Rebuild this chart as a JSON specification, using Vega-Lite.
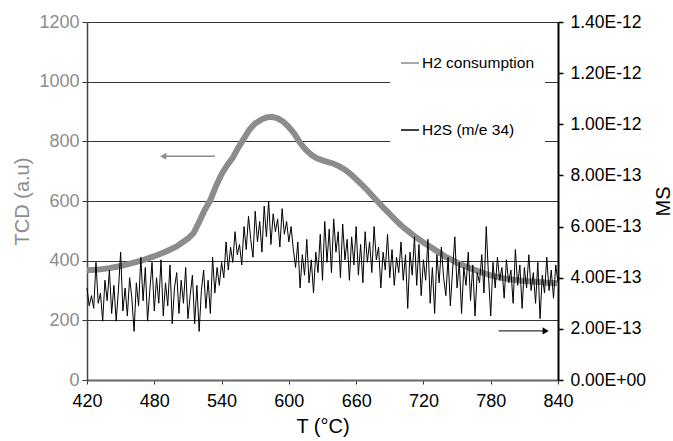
{
  "$schema": "https://vega.github.io/schema/vega-lite/v6.json",
  "width": 471,
  "height": 358,
  "autosize": "none",
  "padding": {"left": 87, "top": 22, "right": 115, "bottom": 61},
  "config": {"font": "Liberation Sans", "view": {"stroke": null}},
  "datasets": {
    "h2": [
      {"T":420,"v":368},{"T":430,"v":370},{"T":440,"v":375},{"T":450,"v":382},{"T":460,"v":392},{"T":470,"v":402},{"T":480,"v":415},{"T":490,"v":430},{"T":500,"v":448},{"T":510,"v":474},{"T":515,"v":492},{"T":520,"v":530},{"T":525,"v":570},{"T":530,"v":603},{"T":535,"v":650},{"T":540,"v":690},{"T":545,"v":720},{"T":550,"v":745},{"T":555,"v":780},{"T":560,"v":810},{"T":565,"v":840},{"T":570,"v":860},{"T":575,"v":872},{"T":580,"v":880},{"T":585,"v":882},{"T":590,"v":877},{"T":595,"v":866},{"T":600,"v":848},{"T":605,"v":825},{"T":610,"v":795},{"T":615,"v":772},{"T":620,"v":755},{"T":625,"v":743},{"T":630,"v":736},{"T":635,"v":730},{"T":640,"v":725},{"T":645,"v":716},{"T":650,"v":705},{"T":655,"v":690},{"T":660,"v":673},{"T":665,"v":655},{"T":670,"v":636},{"T":675,"v":615},{"T":680,"v":595},{"T":685,"v":575},{"T":690,"v":556},{"T":695,"v":537},{"T":700,"v":519},{"T":705,"v":503},{"T":710,"v":488},{"T":715,"v":474},{"T":720,"v":461},{"T":725,"v":449},{"T":730,"v":437},{"T":735,"v":425},{"T":740,"v":413},{"T":745,"v":403},{"T":750,"v":393},{"T":755,"v":385},{"T":760,"v":377},{"T":765,"v":370},{"T":770,"v":363},{"T":775,"v":357},{"T":780,"v":351},{"T":785,"v":346},{"T":790,"v":342},{"T":795,"v":339},{"T":800,"v":336},{"T":810,"v":332},{"T":820,"v":329},{"T":830,"v":326},{"T":840,"v":324}
    ],
    "h2s": [
      {"T":420,"ms":3.6e-13},{"T":422,"ms":2.9e-13},{"T":424,"ms":3.3e-13},{"T":426,"ms":2.8e-13},{"T":428,"ms":4.6e-13},{"T":430,"ms":3.0e-13},{"T":432,"ms":3.4e-13},{"T":434,"ms":2.3e-13},{"T":436,"ms":3.9e-13},{"T":438,"ms":3.1e-13},
      {"T":440,"ms":4.3e-13},{"T":442,"ms":2.6e-13},{"T":444,"ms":3.7e-13},{"T":446,"ms":2.3e-13},{"T":448,"ms":3.5e-13},{"T":450,"ms":5.0e-13},{"T":452,"ms":2.7e-13},{"T":454,"ms":3.6e-13},{"T":456,"ms":2.5e-13},{"T":458,"ms":4.0e-13},
      {"T":460,"ms":3.2e-13},{"T":462,"ms":1.9e-13},{"T":464,"ms":3.8e-13},{"T":466,"ms":2.9e-13},{"T":468,"ms":4.8e-13},{"T":470,"ms":3.1e-13},{"T":472,"ms":4.4e-13},{"T":474,"ms":2.3e-13},{"T":476,"ms":3.5e-13},{"T":478,"ms":4.6e-13},
      {"T":480,"ms":2.7e-13},{"T":482,"ms":4.0e-13},{"T":484,"ms":3.0e-13},{"T":486,"ms":4.7e-13},{"T":488,"ms":2.5e-13},{"T":490,"ms":3.8e-13},{"T":492,"ms":2.9e-13},{"T":494,"ms":4.5e-13},{"T":496,"ms":2.2e-13},{"T":498,"ms":3.6e-13},
      {"T":500,"ms":4.2e-13},{"T":502,"ms":2.6e-13},{"T":504,"ms":3.9e-13},{"T":506,"ms":3.0e-13},{"T":508,"ms":4.4e-13},{"T":510,"ms":2.4e-13},{"T":512,"ms":3.3e-13},{"T":514,"ms":4.1e-13},{"T":516,"ms":2.2e-13},{"T":518,"ms":3.7e-13},
      {"T":520,"ms":1.9e-13},{"T":522,"ms":3.5e-13},{"T":524,"ms":4.3e-13},{"T":526,"ms":2.8e-13},{"T":528,"ms":3.9e-13},{"T":530,"ms":2.6e-13},{"T":532,"ms":4.8e-13},{"T":534,"ms":3.4e-13},{"T":536,"ms":4.4e-13},{"T":538,"ms":3.7e-13},
      {"T":540,"ms":4.6e-13},{"T":542,"ms":4.0e-13},{"T":544,"ms":5.4e-13},{"T":546,"ms":4.3e-13},{"T":548,"ms":5.2e-13},{"T":550,"ms":4.6e-13},{"T":552,"ms":5.8e-13},{"T":554,"ms":4.9e-13},{"T":556,"ms":5.3e-13},{"T":558,"ms":4.5e-13},
      {"T":560,"ms":6.0e-13},{"T":562,"ms":5.1e-13},{"T":564,"ms":6.4e-13},{"T":566,"ms":5.5e-13},{"T":568,"ms":4.8e-13},{"T":570,"ms":6.6e-13},{"T":572,"ms":5.4e-13},{"T":574,"ms":6.2e-13},{"T":576,"ms":5.0e-13},{"T":578,"ms":6.8e-13},
      {"T":580,"ms":5.6e-13},{"T":582,"ms":7.0e-13},{"T":584,"ms":5.3e-13},{"T":586,"ms":6.5e-13},{"T":588,"ms":5.8e-13},{"T":590,"ms":6.3e-13},{"T":592,"ms":5.2e-13},{"T":594,"ms":6.7e-13},{"T":596,"ms":5.7e-13},{"T":598,"ms":6.2e-13},
      {"T":600,"ms":5.4e-13},{"T":602,"ms":6.0e-13},{"T":604,"ms":5.1e-13},{"T":606,"ms":4.4e-13},{"T":608,"ms":5.4e-13},{"T":610,"ms":3.6e-13},{"T":612,"ms":4.9e-13},{"T":614,"ms":4.1e-13},{"T":616,"ms":5.5e-13},{"T":618,"ms":3.8e-13},
      {"T":620,"ms":4.7e-13},{"T":622,"ms":3.4e-13},{"T":624,"ms":5.0e-13},{"T":626,"ms":4.2e-13},{"T":628,"ms":5.7e-13},{"T":630,"ms":3.9e-13},{"T":632,"ms":6.2e-13},{"T":634,"ms":4.6e-13},{"T":636,"ms":5.9e-13},{"T":638,"ms":4.2e-13},
      {"T":640,"ms":6.3e-13},{"T":642,"ms":5.0e-13},{"T":644,"ms":5.8e-13},{"T":646,"ms":4.0e-13},{"T":648,"ms":6.1e-13},{"T":650,"ms":4.7e-13},{"T":652,"ms":5.5e-13},{"T":654,"ms":3.9e-13},{"T":656,"ms":5.6e-13},{"T":658,"ms":4.5e-13},
      {"T":660,"ms":6.0e-13},{"T":662,"ms":4.1e-13},{"T":664,"ms":5.3e-13},{"T":666,"ms":3.8e-13},{"T":668,"ms":5.8e-13},{"T":670,"ms":4.6e-13},{"T":672,"ms":5.4e-13},{"T":674,"ms":4.2e-13},{"T":676,"ms":6.0e-13},{"T":678,"ms":4.7e-13},
      {"T":680,"ms":5.2e-13},{"T":682,"ms":3.6e-13},{"T":684,"ms":5.0e-13},{"T":686,"ms":4.3e-13},{"T":688,"ms":5.7e-13},{"T":690,"ms":4.0e-13},{"T":692,"ms":5.1e-13},{"T":694,"ms":3.7e-13},{"T":696,"ms":4.8e-13},{"T":698,"ms":4.2e-13},
      {"T":700,"ms":5.4e-13},{"T":702,"ms":3.9e-13},{"T":704,"ms":4.9e-13},{"T":706,"ms":2.8e-13},{"T":708,"ms":5.0e-13},{"T":710,"ms":4.1e-13},{"T":712,"ms":5.6e-13},{"T":714,"ms":3.7e-13},{"T":716,"ms":5.3e-13},{"T":718,"ms":3.3e-13},
      {"T":720,"ms":4.7e-13},{"T":722,"ms":3.9e-13},{"T":724,"ms":5.5e-13},{"T":726,"ms":3.0e-13},{"T":728,"ms":4.4e-13},{"T":730,"ms":2.6e-13},{"T":732,"ms":4.9e-13},{"T":734,"ms":3.8e-13},{"T":736,"ms":5.2e-13},{"T":738,"ms":4.0e-13},
      {"T":740,"ms":3.3e-13},{"T":742,"ms":4.8e-13},{"T":744,"ms":2.9e-13},{"T":746,"ms":4.3e-13},{"T":748,"ms":5.6e-13},{"T":750,"ms":3.6e-13},{"T":752,"ms":4.6e-13},{"T":754,"ms":2.6e-13},{"T":756,"ms":4.4e-13},{"T":758,"ms":3.7e-13},
      {"T":760,"ms":5.0e-13},{"T":762,"ms":3.1e-13},{"T":764,"ms":4.5e-13},{"T":766,"ms":2.5e-13},{"T":768,"ms":4.2e-13},{"T":770,"ms":3.8e-13},{"T":772,"ms":4.9e-13},{"T":774,"ms":3.4e-13},{"T":776,"ms":6.0e-13},{"T":778,"ms":4.1e-13},
      {"T":780,"ms":2.5e-13},{"T":782,"ms":4.6e-13},{"T":784,"ms":3.6e-13},{"T":786,"ms":4.8e-13},{"T":788,"ms":3.9e-13},{"T":790,"ms":4.4e-13},{"T":792,"ms":3.2e-13},{"T":794,"ms":4.7e-13},{"T":796,"ms":3.8e-13},{"T":798,"ms":4.3e-13},
      {"T":800,"ms":3.0e-13},{"T":802,"ms":5.1e-13},{"T":804,"ms":3.7e-13},{"T":806,"ms":4.5e-13},{"T":808,"ms":2.8e-13},{"T":810,"ms":4.4e-13},{"T":812,"ms":3.6e-13},{"T":814,"ms":4.9e-13},{"T":816,"ms":3.5e-13},{"T":818,"ms":4.2e-13},
      {"T":820,"ms":3.0e-13},{"T":822,"ms":4.6e-13},{"T":824,"ms":2.4e-13},{"T":826,"ms":4.1e-13},{"T":828,"ms":3.4e-13},{"T":830,"ms":4.8e-13},{"T":832,"ms":3.5e-13},{"T":834,"ms":4.3e-13},{"T":836,"ms":3.2e-13},{"T":838,"ms":4.5e-13},
      {"T":840,"ms":3.8e-13}
    ],
    "arrowL": [{"T":488,"T2":534,"v":750}],
    "arrowR": [{"T":787,"T2":829,"ms":1.92e-13}]
  },
  "layer": [
    {
      "layer": [
        {
          "data": {"name": "h2"},
          "mark": {"type": "line", "strokeWidth": 6},
          "encoding": {
            "x": {"field": "T", "type": "quantitative", "scale": {"domain": [420, 840], "nice": false},
              "axis": {"title": "T (°C)", "values": [420,480,540,600,660,720,780,840], "grid": false, "labelFlush": false,
                "labelFontSize": 18, "labelColor": "#000", "labelPadding": 8, "tickSize": 4, "tickColor": "#333",
                "domainColor": "#666", "domainWidth": 2, "titleFontSize": 20, "titleFontWeight": "normal", "titleColor": "#000", "titlePadding": 6}},
            "y": {"field": "v", "type": "quantitative", "scale": {"domain": [0, 1200], "nice": false},
              "axis": {"title": "TCD (a.u)", "values": [0,200,400,600,800,1000,1200], "format": "d", "grid": true, "gridColor": "#333", "gridWidth": 1, "labelFlush": false,
                "labelFontSize": 18, "labelColor": "#8c8c8c", "labelPadding": 3, "tickSize": 5, "tickColor": "#333",
                "domainColor": "#444", "domainWidth": 1.5, "titleFontSize": 20, "titleFontWeight": "normal", "titleColor": "#8c8c8c", "titlePadding": 6}},
            "color": {"datum": "H2 consumption", "type": "nominal",
              "scale": {"domain": ["H2 consumption", "H2S (m/e 34)"], "range": ["#8c8c8c", "#000000"]},
              "legend": {"title": null, "orient": "none", "legendX": 303, "legendY": 21, "fillColor": "#ffffff", "padding": 10,
                "symbolType": "stroke", "symbolSize": 324, "symbolStrokeWidth": 1.5, "labelFontSize": 15.5, "labelColor": "#000",
                "labelOffset": 2, "rowPadding": 48}}
          }
        },
        {
          "data": {"name": "arrowL"},
          "mark": {"type": "rule", "color": "#8c8c8c", "strokeWidth": 1.5},
          "encoding": {
            "x": {"field": "T", "type": "quantitative"},
            "x2": {"field": "T2"},
            "y": {"field": "v", "type": "quantitative"}
          }
        },
        {
          "data": {"name": "arrowL"},
          "mark": {"type": "point", "shape": "triangle-left", "filled": true, "color": "#8c8c8c", "size": 50, "opacity": 1},
          "encoding": {
            "x": {"field": "T", "type": "quantitative"},
            "y": {"field": "v", "type": "quantitative"}
          }
        }
      ]
    },
    {
      "layer": [
        {
          "data": {"name": "h2s"},
          "mark": {"type": "line", "strokeWidth": 1},
          "encoding": {
            "x": {"field": "T", "type": "quantitative"},
            "y": {"field": "ms", "type": "quantitative", "scale": {"domain": [0, 1.4e-12], "nice": false},
              "axis": {"orient": "right", "title": "MS", "grid": false, "labelFlush": false,
                "values": [0, 2e-13, 4e-13, 6e-13, 8e-13, 1e-12, 1.2e-12, 1.4e-12],
                "labelExpr": "datum.value == 0 ? '0.00E+00' : replace(format(datum.value, '.2e'), 'e', 'E')",
                "labelFontSize": 17.5, "labelColor": "#000", "labelPadding": 7, "tickSize": 5, "tickColor": "#000", "tickWidth": 1.5,
                "domainColor": "#000", "domainWidth": 2, "titleFontSize": 20, "titleFontWeight": "normal", "titleColor": "#000",
                "titlePadding": 28, "titleAngle": 270}},
            "color": {"datum": "H2S (m/e 34)", "type": "nominal"}
          }
        },
        {
          "data": {"name": "arrowR"},
          "mark": {"type": "rule", "color": "#000", "strokeWidth": 1},
          "encoding": {
            "x": {"field": "T", "type": "quantitative"},
            "x2": {"field": "T2"},
            "y": {"field": "ms", "type": "quantitative"}
          }
        },
        {
          "data": {"name": "arrowR"},
          "mark": {"type": "point", "shape": "triangle-right", "filled": true, "color": "#000", "size": 50, "opacity": 1},
          "encoding": {
            "x": {"field": "T2", "type": "quantitative"},
            "y": {"field": "ms", "type": "quantitative"}
          }
        }
      ]
    }
  ],
  "resolve": {"scale": {"y": "independent"}}
}
